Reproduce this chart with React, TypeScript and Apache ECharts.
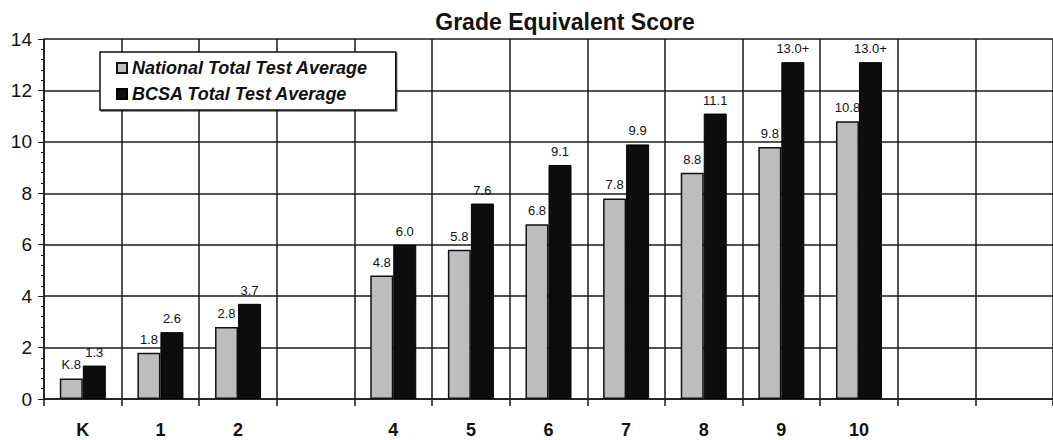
import React, { useEffect, useRef } from "react";
import * as echarts from "echarts";

const grades = ["K", "1", "2", "3", "4", "5", "6", "7", "8", "9", "10", "11", "12"];
const gradeLabels = ["K", "1", "2", "", "4", "5", "6", "7", "8", "9", "10", "", ""];
const nationalValues = [0.8, 1.8, 2.8, null, 4.8, 5.8, 6.8, 7.8, 8.8, 9.8, 10.8, null, null];
const nationalLabels = ["K.8", "1.8", "2.8", "", "4.8", "5.8", "6.8", "7.8", "8.8", "9.8", "10.8", "", ""];
const bcsaValues = [1.3, 2.6, 3.7, null, 6.0, 7.6, 9.1, 9.9, 11.1, 13.1, 13.1, null, null];
const bcsaLabels = ["1.3", "2.6", "3.7", "", "6.0", "7.6", "9.1", "9.9", "11.1", "13.0+", "13.0+", "", ""];
const yTicks = [0, 2, 4, 6, 8, 10, 12, 14];

export default function App() {
  const ref = useRef<HTMLDivElement>(null);
  useEffect(() => {
    if (!ref.current) return;
    const chart = echarts.init(ref.current, null, { renderer: "svg" });
    const lineColor = "#1a1a1a";
    chart.setOption({
      animation: false,
      backgroundColor: "#ffffff",
      title: {
        text: "Grade Equivalent Score",
        left: 560,
        textAlign: "center",
        top: 5,
        textStyle: { fontFamily: "Arial, Liberation Sans, sans-serif", fontWeight: "bold", fontSize: 23, color: "#111" },
      },
      legend: {
        orient: "vertical",
        left: 100,
        top: 52,
        padding: [7, 28, 7, 16],
        itemGap: 8,
        itemWidth: 10,
        itemHeight: 10,
        icon: "rect",
        backgroundColor: "#ffffff",
        borderColor: "#111",
        borderWidth: 1.5,
        shadowColor: "rgba(0,0,0,0.6)",
        shadowOffsetX: 1,
        shadowOffsetY: 1,
        textStyle: {
          fontFamily: "Arial, Liberation Sans, sans-serif",
          fontWeight: "bold",
          fontStyle: "italic",
          fontSize: 18,
          color: "#111",
        },
        data: ["National Total Test Average", "BCSA Total Test Average"],
      },
      grid: { left: 44, top: 39, bottom: 41, right: -11 },
      xAxis: {
        type: "category",
        data: grades,
        boundaryGap: true,
        axisLine: { show: true, lineStyle: { color: lineColor, width: 1.5 } },
        axisTick: { show: true, interval: 0, length: 7, lineStyle: { color: lineColor, width: 1.5 } },
        splitLine: { show: true, interval: 0, lineStyle: { color: lineColor, width: 1.5 } },
        axisLabel: {
          interval: 0,
          margin: 22,
          fontFamily: "Arial, Liberation Sans, sans-serif",
          fontWeight: "bold",
          fontSize: 18,
          color: "#111",
          formatter: (_v: string, i: number) => gradeLabels[i],
        },
      },
      yAxis: {
        type: "value",
        min: yTicks[0],
        max: yTicks[yTicks.length - 1],
        interval: 2,
        axisLine: { show: true, lineStyle: { color: lineColor, width: 1.5 } },
        axisTick: { show: true, length: 6, lineStyle: { color: lineColor } },
        minorTick: { show: true, splitNumber: 5, length: 3, lineStyle: { color: lineColor } },
        splitLine: { show: true, lineStyle: { color: lineColor, width: 1.5 } },
        axisLabel: {
          margin: 12,
          fontFamily: "Arial, Liberation Sans, sans-serif",
          fontSize: 19,
          color: "#111",
        },
      },
      series: [
        {
          name: "National Total Test Average",
          type: "bar",
          data: nationalValues,
          barWidth: 23,
          barGap: "0%",
          itemStyle: { color: "#bdbdbd", borderColor: "#111", borderWidth: 1.5 },
          label: {
            show: true,
            position: "top",
            distance: 7,
            fontFamily: "Arial, Liberation Sans, sans-serif",
            fontSize: 13,
            color: "#111",
            formatter: (p: any) => nationalLabels[p.dataIndex],
          },
        },
        {
          name: "BCSA Total Test Average",
          type: "bar",
          data: bcsaValues,
          barWidth: 23,
          itemStyle: { color: "#0d0d0d", borderColor: "#000", borderWidth: 1 },
          label: {
            show: true,
            position: "top",
            distance: 7,
            fontFamily: "Arial, Liberation Sans, sans-serif",
            fontSize: 13,
            color: "#111",
            formatter: (p: any) => bcsaLabels[p.dataIndex],
          },
        },
      ],
    });
    return () => chart.dispose();
  }, []);
  return (
    <div
      ref={ref}
      style={{ position: "fixed", left: 0, top: 0, width: 1053, height: 440, background: "#fff" }}
    />
  );
}
